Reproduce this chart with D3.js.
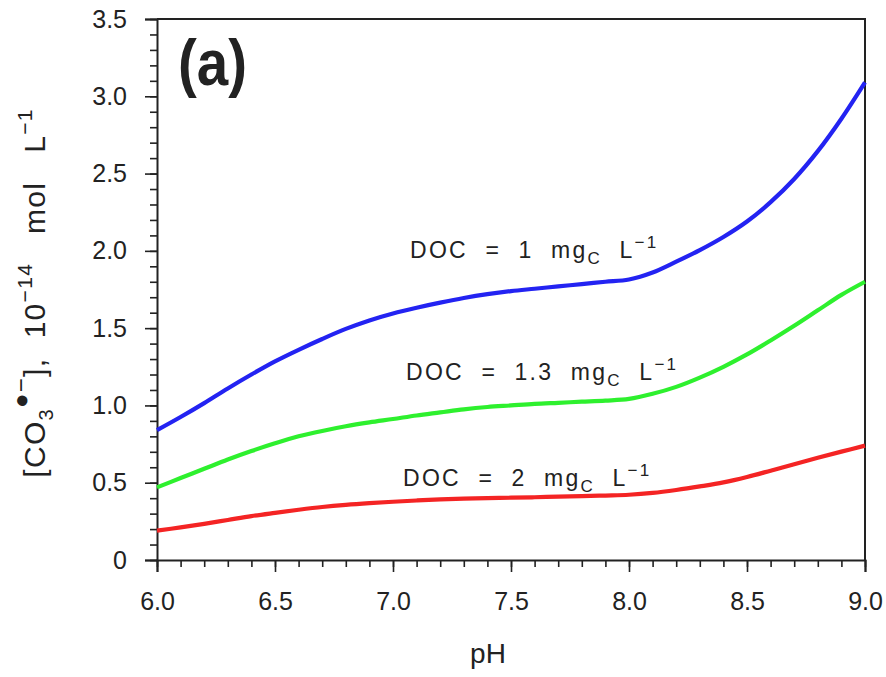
<!DOCTYPE html>
<html>
<head>
<meta charset="utf-8">
<script src="https://cdn.jsdelivr.net/npm/d3@7"></script>
<style>
  html, body { margin: 0; padding: 0; background: #fff; }
  svg text { font-family: "Liberation Sans", Arial, Helvetica, sans-serif; fill: #222; }
</style>
</head>
<body>
<svg id="chart" width="886" height="677"></svg>
<script>
// ---- data ----
const pH = [6.0,6.1,6.2,6.3,6.4,6.5,6.6,6.7,6.8,6.9,7.0,7.1,7.2,7.3,7.4,7.5,7.6,7.7,7.8,7.9,8.0,8.1,8.2,8.3,8.4,8.5,8.6,8.7,8.8,8.9,9.0];
const doc1 = [0.84,0.925,1.015,1.11,1.20,1.285,1.36,1.43,1.495,1.55,1.595,1.632,1.665,1.695,1.72,1.74,1.755,1.77,1.785,1.80,1.815,1.86,1.93,2.005,2.09,2.19,2.315,2.465,2.645,2.855,3.09];
const doc13 = [0.47,0.53,0.59,0.65,0.705,0.755,0.80,0.835,0.865,0.89,0.912,0.935,0.955,0.975,0.99,1.00,1.01,1.017,1.024,1.031,1.042,1.075,1.12,1.18,1.25,1.33,1.42,1.515,1.615,1.715,1.80];
const doc2 = [0.19,0.211,0.234,0.259,0.284,0.305,0.325,0.343,0.357,0.368,0.377,0.385,0.392,0.397,0.40,0.403,0.406,0.41,0.413,0.417,0.422,0.434,0.453,0.476,0.502,0.537,0.578,0.62,0.661,0.701,0.74];
const seriesNames = ["1", "1.3", "2"];
const seriesColors = ["#2323f2", "#2ef02e", "#f42424"];
const xTicks = [6.0,6.5,7.0,7.5,8.0,8.5,9.0];
const xTickLabels = ["6.0","6.5","7.0","7.5","8.0","8.5","9.0"];
const yTicks = [0,0.5,1.0,1.5,2.0,2.5,3.0,3.5];
const yTickLabels = ["0","0.5","1.0","1.5","2.0","2.5","3.0","3.5"];

// ---- layout ----
const svg = d3.select("#chart");
const L = 157, T = 19, R = 865, B = 560;
const x = d3.scaleLinear().domain([6, 9]).range([L, R]);
const y = d3.scaleLinear().domain([0, 3.5]).range([B, T]);
const axisColor = "#222";

// frame (top and right lines)
svg.append("path")
  .attr("d", `M${L},${T}H${R}V${B}`)
  .attr("fill", "none").attr("stroke", axisColor).attr("stroke-width", 2);

// x axis
const xMinor = d3.range(60, 91).map(v => v / 10);
const gx = svg.append("g").attr("transform", `translate(0,${B})`);
gx.call(d3.axisBottom(x).tickValues(xMinor).tickSize(7).tickFormat(""));
gx.call(g => g.select(".domain").remove());
const gx2 = svg.append("g").attr("transform", `translate(0,${B})`);
gx2.call(d3.axisBottom(x).tickValues(xTicks).tickSize(12).tickPadding(20)
  .tickFormat((d, i) => xTickLabels[i]));
gx2.selectAll("text").attr("font-size", 25).attr("fill", "#222")
  .attr("font-family", "Liberation Sans, Arial, sans-serif");
[gx, gx2].forEach(g => {
  g.selectAll("line").attr("stroke", axisColor).attr("stroke-width", 1.6);
  g.select(".domain").attr("stroke", axisColor).attr("stroke-width", 2);
});

// y axis
const yMinor = d3.range(0, 36).map(v => v / 10);
const gy = svg.append("g").attr("transform", `translate(${L},0)`);
gy.call(d3.axisLeft(y).tickValues(yMinor).tickSize(7).tickFormat(""));
gy.call(g => g.select(".domain").remove());
const gy2 = svg.append("g").attr("transform", `translate(${L},0)`);
gy2.call(d3.axisLeft(y).tickValues(yTicks).tickSize(12).tickPadding(18)
  .tickFormat((d, i) => yTickLabels[i]));
gy2.selectAll("text").attr("font-size", 25).attr("fill", "#222")
  .attr("font-family", "Liberation Sans, Arial, sans-serif");
[gy, gy2].forEach(g => {
  g.selectAll("line").attr("stroke", axisColor).attr("stroke-width", 1.6);
  g.select(".domain").attr("stroke", axisColor).attr("stroke-width", 2);
});

// curves
const series = [doc1, doc13, doc2];
const line = d3.line()
  .x((d, i) => x(pH[i]))
  .y(d => y(d))
  .curve(d3.curveCatmullRom.alpha(0.5));
series.forEach((s, k) => {
  svg.append("path").datum(s)
    .attr("d", line)
    .attr("fill", "none")
    .attr("stroke", seriesColors[k])
    .attr("stroke-width", 4.2)
    .attr("stroke-linecap", "butt");
});

// curve labels
const labelPos = [[410, 258], [406, 380], [403, 486]];
seriesNames.forEach((n, k) => {
  const t = svg.append("text")
    .attr("x", labelPos[k][0]).attr("y", labelPos[k][1])
    .attr("font-size", 23)
    .style("letter-spacing", "2.3px")
    .style("white-space", "pre");
  t.append("tspan").text(`DOC  =  ${n}  mg`);
  t.append("tspan").attr("font-size", 17).attr("dy", 6).text("C");
  t.append("tspan").attr("dy", -6).text("  L");
  t.append("tspan").attr("font-size", 17).attr("dy", -10).text("\u22121");
});

// panel label
svg.append("text")
  .attr("x", 178).attr("y", 85)
  .attr("font-size", 64).attr("font-weight", "bold")
  .attr("textLength", 69).attr("lengthAdjust", "spacingAndGlyphs")
  .text("(a)");

// x axis title
svg.append("text")
  .attr("x", 488).attr("y", 663)
  .attr("text-anchor", "middle")
  .attr("font-size", 28)
  .text("pH");

// y axis title
const yt = svg.append("text")
  .attr("transform", "translate(45,293) rotate(-90)")
  .attr("text-anchor", "middle")
  .attr("font-size", 30)
  .style("letter-spacing", "1.3px")
  .style("white-space", "pre");
yt.append("tspan").text("[CO");
yt.append("tspan").attr("font-size", 20).attr("dy", 8).text("3");
yt.append("tspan").attr("font-size", 24).attr("dy", -24).text("\u25CF\u2212");
yt.append("tspan").attr("dy", 16).text("],  10");
yt.append("tspan").attr("font-size", 21).attr("dy", -13).text("\u221214");
yt.append("tspan").attr("dy", 13).text("   mol   L");
yt.append("tspan").attr("font-size", 21).attr("dy", -13).text("\u22121");
</script>
</body>
</html>
